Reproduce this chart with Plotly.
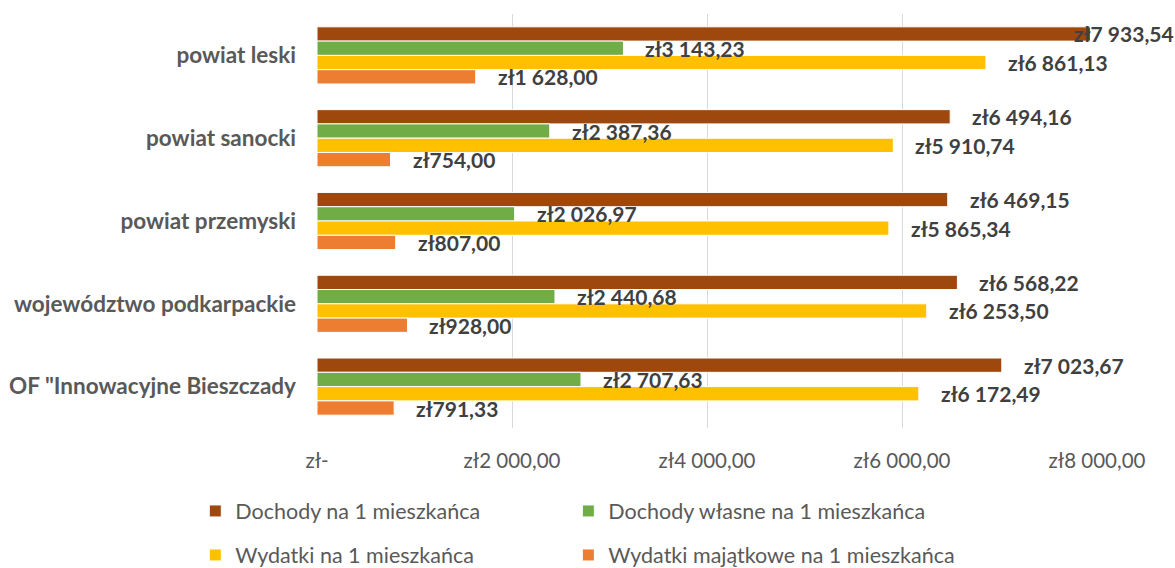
import plotly.graph_objects as go

# categories, top to bottom as shown
categories = [
    "powiat leski",
    "powiat sanocki",
    "powiat przemyski",
    "województwo podkarpackie",
    "OF \"Innowacyjne Bieszczady",
]
series_names = [
    "Dochody na 1 mieszkańca",
    "Dochody własne na 1 mieszkańca",
    "Wydatki na 1 mieszkańca",
    "Wydatki majątkowe na 1 mieszkańca",
]
dochody = [7933.54, 6494.16, 6469.15, 6568.22, 7023.67]
dochody_wlasne = [3143.23, 2387.36, 2026.97, 2440.68, 2707.63]
wydatki = [6861.13, 5910.74, 5865.34, 6253.50, 6172.49]
wydatki_majatkowe = [1628.00, 754.00, 807.00, 928.00, 791.33]
tick_vals = [0, 2000, 4000, 6000, 8000]
tick_text = ["zł-", "zł2 000,00", "zł4 000,00", "zł6 000,00", "zł8 000,00"]

series = [dochody, dochody_wlasne, wydatki, wydatki_majatkowe]
bar_colors = ["#9E480E", "#70AD47", "#FFC000", "#ED7D31"]
legend_ids = ["legend", "legend2", "legend3", "legend4"]
# legend grid: 2 columns x 2 rows (container fractions)
legend_x = [0.1662, 0.4837, 0.1662, 0.4837]
legend_y = [0.1004, 0.1004, 0.0229, 0.0229]

FONT = "Lato"
GREY = "#595959"
LABEL = "#404040"
BARGAP = 0.31


def fmt(v):
    return "zł" + f"{v:,.2f}".replace(",", " ").replace(".", ",")


fig = go.Figure()
for name, vals, col, lg in zip(series_names, series, bar_colors, legend_ids):
    fig.add_trace(go.Bar(
        name=name, y=categories, x=vals, orientation="h",
        marker=dict(color=col, line=dict(color="white", width=1)),
        legend=lg, hoverinfo="x+name",
    ))

# data labels, placed next to the end of each bar
n = len(series)
step = (1 - BARGAP) / n
annotations = []
for k, vals in enumerate(series):
    off = -(1 - BARGAP) / 2 + step * (k + 0.5)
    for i, v in enumerate(vals):
        annotations.append(dict(
            x=v, y=i + off, xref="x", yref="y", text=fmt(v),
            showarrow=False, xanchor="left", yanchor="middle",
            xshift=-19 if v > 7500 else 20,
            font=dict(family=FONT, size=21, color=LABEL, weight="bold"),
        ))

legends = {}
for lg, lx, ly in zip(legend_ids, legend_x, legend_y):
    legends[lg] = dict(
        orientation="h", xref="container", yref="container",
        x=lx, xanchor="left", y=ly, yanchor="middle",
        font=dict(family=FONT, size=21.5, color=GREY),
    )

fig.update_layout(
    barmode="group",
    bargap=BARGAP,
    bargroupgap=0,
    width=1175,
    height=568,
    margin=dict(l=317, r=78, t=14, b=140),
    plot_bgcolor="white",
    paper_bgcolor="white",
    font=dict(family=FONT, color=GREY),
    annotations=annotations,
    showlegend=True,
    **legends,
)
fig.update_xaxes(
    range=[0, 8000], tickvals=tick_vals, ticktext=tick_text,
    showgrid=True, gridcolor="#D9D9D9", gridwidth=1, zeroline=False,
    showline=False, ticks="", ticklabelstandoff=18, automargin=False,
    tickfont=dict(family=FONT, size=20.5, color=GREY),
)
fig.update_yaxes(
    autorange="reversed", showgrid=False, zeroline=False, showline=False,
    ticks="", ticklabelstandoff=20, automargin=False,
    tickfont=dict(family=FONT, size=22.5, color=GREY, weight="bold"),
)

fig.write_html("out.html", config={"displayModeBar": False},
               post_script="document.body.style.margin='0';")
